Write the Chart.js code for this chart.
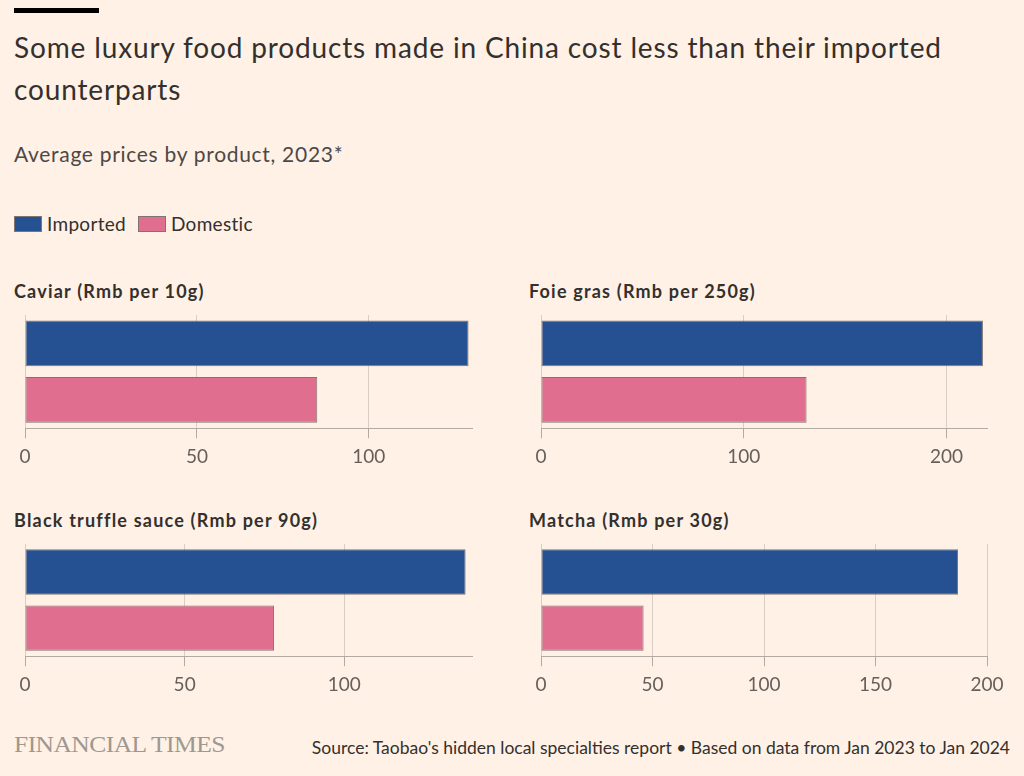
<!DOCTYPE html>
<html lang="en">
<head>
  <meta charset="UTF-8">
  <title>Luxury food prices</title>
  <script src="https://cdn.jsdelivr.net/npm/chart.js"></script>
  <style>
    body { margin: 0; background: #fff1e5; font-family: Lato, "Open Sans", sans-serif; color: #33302e; }
    #page { position: relative; width: 1024px; height: 776px; overflow: hidden; }
    .abs { position: absolute; white-space: nowrap; }
    #bar { left: 14px; top: 8px; width: 85px; height: 5px; background: #000; }
    #title { left: 14px; top: 26px; font-size: 28px; line-height: 42px; letter-spacing: 0.85px; }
    #subtitle { left: 14px; top: 141px; font-size: 21px; color: #4d4845; letter-spacing: 0.7px; }
    #legend { left: 14px; top: 212px; font-size: 19px; letter-spacing: 0.3px; display: flex; align-items: center; }
    #legend span.box { display: inline-block; width: 26px; height: 14px; border: 1px solid #7d7571; margin-right: 5px; }
    #legend span.txt { margin-right: 12px; }
    .ptitle { font-size: 18px; font-weight: 700; letter-spacing: 1.2px; }
    .panel { position: absolute; }
    #ft { left: 14px; top: 732px; font-family: "Liberation Serif", serif; font-size: 23px; color: #9e9892; letter-spacing: -0.5px; transform: scaleX(1.11); transform-origin: left center; }
    #source { right: 14px; top: 737px; font-size: 17.5px; color: #33302e; }
  </style>
</head>
<body>
  <div id="page">
    <div id="bar" class="abs"></div>
    <div id="title" class="abs">Some luxury food products made in China cost less than their imported<br>counterparts</div>
    <div id="subtitle" class="abs">Average prices by product, 2023*</div>
    <div id="legend" class="abs"></div>
    <div id="ft" class="abs">FINANCIAL TIMES</div>
    <div id="source" class="abs">Source: Taobao's hidden local specialties report &bull; Based on data from Jan 2023 to Jan 2024</div>
  </div>
  <script>
    const seriesNames = ['Imported', 'Domestic'];
    const products = ['Caviar (Rmb per 10g)', 'Foie gras (Rmb per 250g)', 'Black truffle sauce (Rmb per 90g)', 'Matcha (Rmb per 30g)'];
    const imported = [129, 218, 138, 187];
    const domestic = [85, 131, 78, 46];
    const axisMax = [130, 220, 140, 200];
    const tickValues = [[0, 50, 100], [0, 100, 200], [0, 50, 100], [0, 50, 100, 150, 200]];

    const colours = ['#255192', '#e06f8f'];
    const edge = '#7d7571';

    // panel placement: [left, top, width, height, padLeft, padRight, titleLeft]
    const panels = [
      [0, 305, 500, 170, 25, 28, 14],
      [512, 305, 512, 170, 29, 37, 529],
      [0, 534, 500, 169, 25, 28, 14],
      [512, 534, 512, 169, 29, 37, 529]
    ];

    const legend = document.getElementById('legend');
    seriesNames.forEach(function(n, i) {
      legend.innerHTML += '<span class="box" style="background:' + colours[i] + '"></span><span class="txt">' + n + '</span>';
    });

    const page = document.getElementById('page');
    products.forEach(function(name, i) {
      const p = panels[i];
      const t = document.createElement('div');
      t.className = 'abs ptitle';
      t.style.left = p[6] + 'px';
      t.style.top = (p[1] - 25) + 'px';
      t.textContent = name;
      page.appendChild(t);

      const box = document.createElement('div');
      box.className = 'panel';
      box.style.left = p[0] + 'px';
      box.style.top = p[1] + 'px';
      box.style.width = p[2] + 'px';
      box.style.height = p[3] + 'px';
      const cv = document.createElement('canvas');
      box.appendChild(cv);
      page.appendChild(box);

      new Chart(cv.getContext('2d'), {
        type: 'bar',
        data: {
          labels: seriesNames,
          datasets: [{
            data: [imported[i], domestic[i]],
            backgroundColor: colours,
            borderColor: edge,
            borderWidth: 1,
            borderSkipped: false,
            categoryPercentage: 1,
            barPercentage: 0.81
          }]
        },
        options: {
          indexAxis: 'y',
          responsive: true,
          maintainAspectRatio: false,
          animation: false,
          layout: { padding: { left: p[4], right: p[5], top: 10, bottom: 0 } },
          plugins: { legend: { display: false }, tooltip: { enabled: false } },
          scales: {
            y: { display: false },
            x: {
              min: 0,
              max: axisMax[i],
              grid: { color: '#d9cec4', tickColor: '#b3aaa2', tickLength: 10 },
              border: { color: '#b3aaa2' },
              afterBuildTicks: function(scale) {
                scale.ticks = tickValues[i].map(function(v) { return { value: v }; });
              },
              ticks: {
                padding: 7,
                maxRotation: 0,
                autoSkip: false,
                color: '#66605c',
                font: { family: 'Lato', size: 19 }
              }
            }
          }
        }
      });
    });
  </script>
</body>
</html>
